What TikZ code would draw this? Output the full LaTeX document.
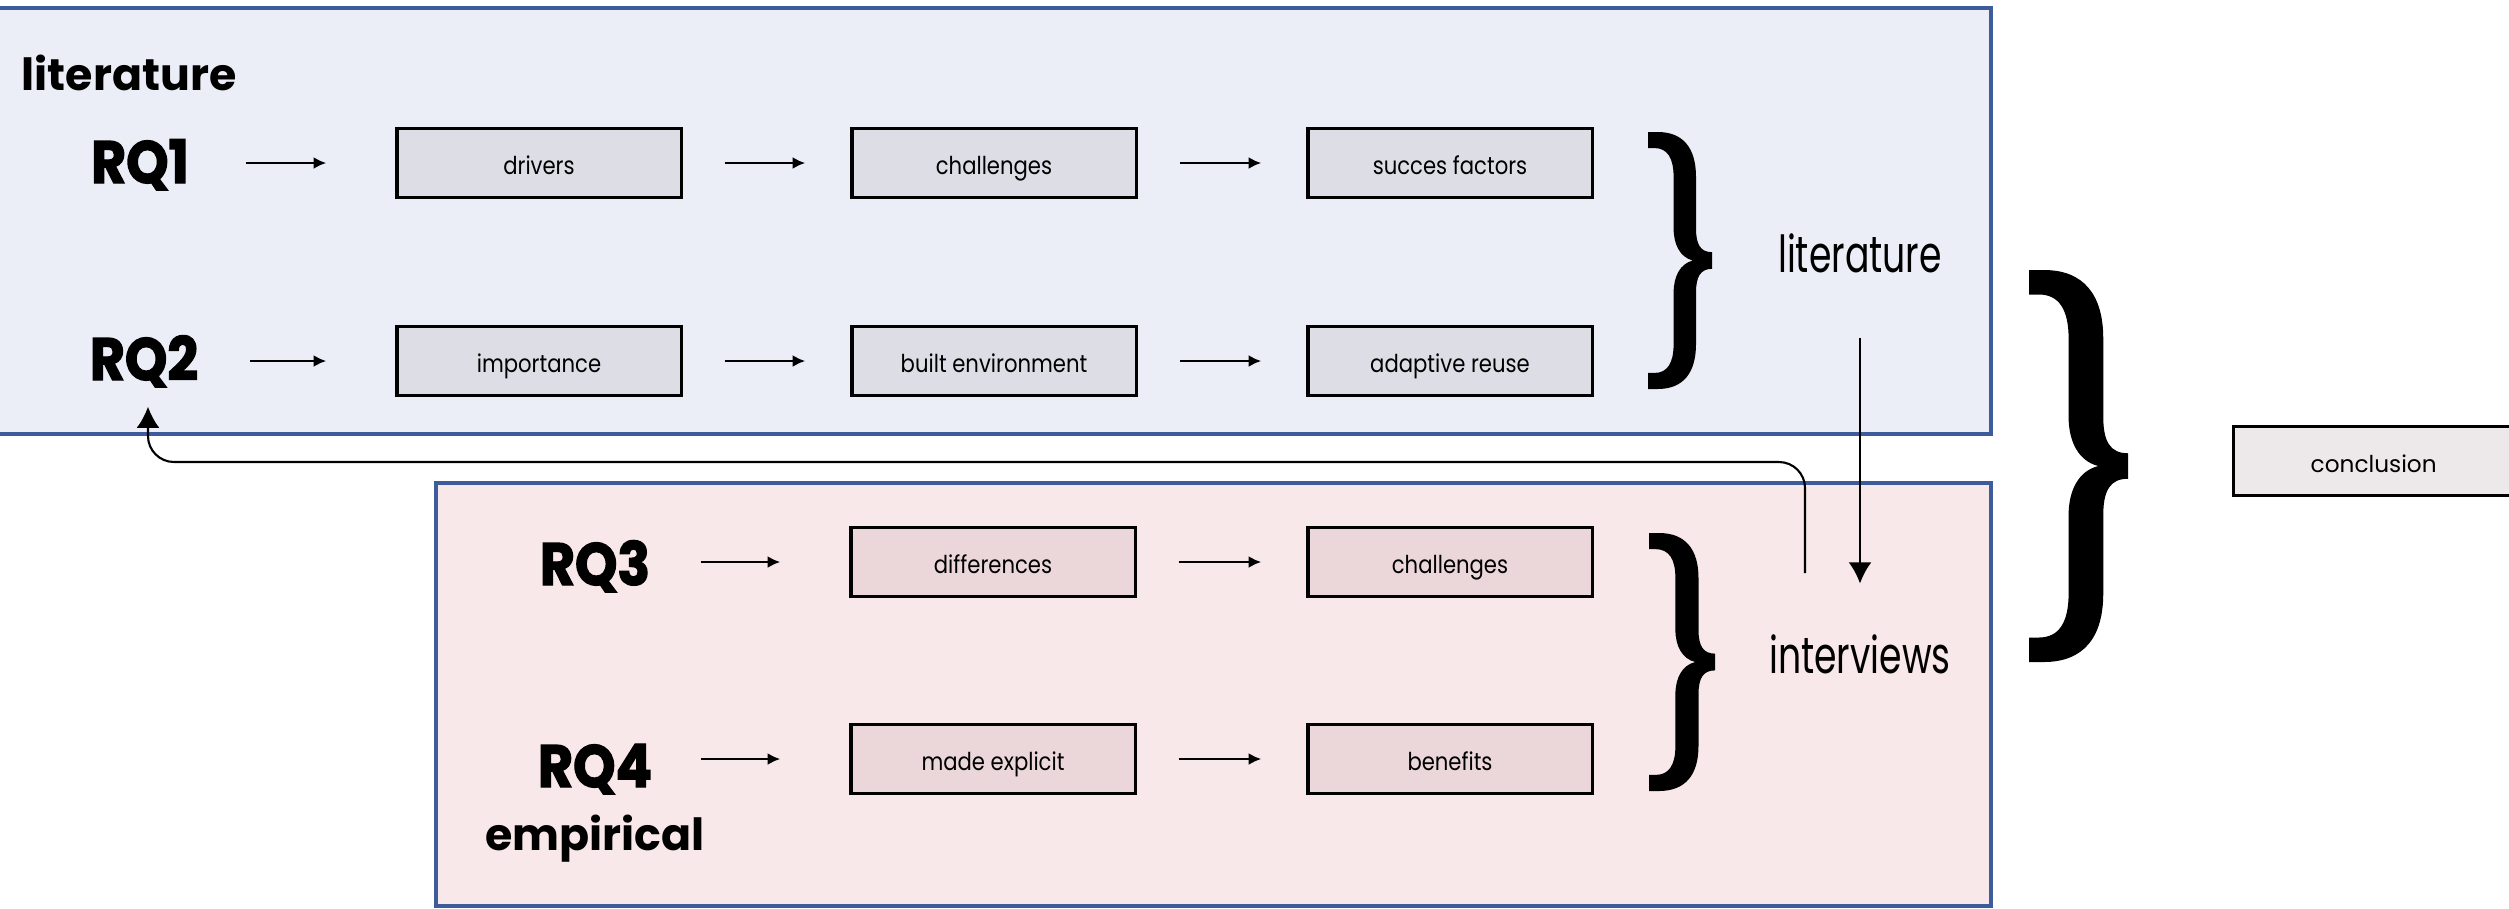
\documentclass[tikz,border=0pt]{standalone}
\usepackage{fontspec}
\setmainfont{Poppins}
\newfontfamily\condfont[FakeStretch=0.86]{Poppins}
\newfontfamily\bigcond[FakeStretch=0.71]{Poppins}
\newfontfamily\rqfont[FakeStretch=0.9, FakeBold=2.2]{Poppins}
\usetikzlibrary{arrows.meta}

\definecolor{bluebg}{HTML}{EBEEF7}
\definecolor{pinkbg}{HTML}{F9E8E9}
\definecolor{framecol}{HTML}{3E5C9C}
\definecolor{bluebox}{HTML}{DDDDE6}
\definecolor{pinkbox}{HTML}{EBD7D9}
\definecolor{conclbox}{HTML}{EDE8EA}

\tikzset{
  panel/.style={draw=framecol, line width=0.9pt},
  stepbox/.style={draw=black, line width=0.9pt, minimum width=2.84cm, minimum height=0.69cm,
    inner sep=0pt, text height=6.5pt, text depth=0pt, font=\condfont\fontsize{7}{8}\selectfont},
  bluestep/.style={stepbox, fill=bluebox},
  pinkstep/.style={stepbox, fill=pinkbox},
  rqlabel/.style={anchor=base, inner sep=0pt, text depth=0pt, minimum width=2.1cm,
    font=\rqfont\bfseries\fontsize{17}{18}\selectfont},
  sectlabel/.style={anchor=base, inner sep=0pt, text depth=0pt,
    font=\bfseries\fontsize{12.6}{14}\selectfont},
  methodlabel/.style={anchor=base, inner sep=0pt, text depth=0pt,
    font=\bigcond\fontsize{14.5}{16}\selectfont},
  arr/.style={-{Latex[length=3.6pt,width=3.4pt]}, line width=0.75pt},
  bigarr/.style={-{Latex[length=6pt,width=6.5pt]}, line width=0.6pt},
  curly/.pic={
    \fill (0,0) -- (15,0) .. controls (55,0) and (75,25) .. (75,70) -- (75,150)
      .. controls (75,175) and (82,187) .. (100,187) -- (100,213)
      .. controls (82,213) and (75,225) .. (75,250) -- (75,330)
      .. controls (75,375) and (55,400) .. (15,400) -- (0,400) -- (0,375) -- (10,375)
      .. controls (30,375) and (40,360) .. (40,330) -- (40,250)
      .. controls (40,225) and (50,205) .. (70,200)
      .. controls (50,195) and (40,175) .. (40,150) -- (40,70)
      .. controls (40,40) and (30,25) .. (10,25) -- (0,25) -- cycle;
  }
}

\begin{document}
\begin{tikzpicture}[x=0.01cm, y=-0.01cm]
\useasboundingbox (0,0) rectangle (2509,908);
\clip (0,0) rectangle (2509,908);

% panels
\draw[panel, fill=bluebg] (-20,8) rectangle (1991,434);
\draw[panel, fill=pinkbg] (436,483) rectangle (1991,906);

% section labels
\node[sectlabel] (litlabel) at (129,90) {literature};
\node[sectlabel] (emplabel) at (595,850) {empirical};

% RQ labels
\node[rqlabel] (rq1) at (140,183) {RQ1};
\node[rqlabel] (rq2) at (144,380) {RQ2};
\node[rqlabel] (rq3) at (595,585) {RQ3};
\node[rqlabel] (rq4) at (595,787) {RQ4};

% step boxes
\node[bluestep] (drivers) at (539,163) {drivers};
\node[bluestep] (chal1)   at (994,163) {challenges};
\node[bluestep] (succ)    at (1450,163) {succes factors};
\node[bluestep] (imp)     at (539,361) {importance};
\node[bluestep] (built)   at (994,361) {built environment};
\node[bluestep] (adapt)   at (1450,361) {adaptive reuse};
\node[pinkstep] (diff)    at (993,562) {differences};
\node[pinkstep] (chal2)   at (1450,562) {challenges};
\node[pinkstep] (made)    at (993,759) {made explicit};
\node[pinkstep] (ben)     at (1450,759) {benefits};

% conclusion
\node[draw=black, line width=0.9pt, fill=conclbox, minimum width=2.8cm, minimum height=0.69cm,
  inner sep=0pt, text height=6.3pt, text depth=0pt, anchor=west,
  font=\fontsize{6.6}{8}\selectfont] (concl) at (2232,461) {conclusion};

% method labels
\node[methodlabel] (litR) at (1860,272) {literature};
\node[methodlabel] (intv) at (1860,673) {interviews};

% braces
\pic[xscale=0.64, yscale=0.6425] at (1648,132) {curly};
\pic[xscale=0.66, yscale=0.645] at (1649,533) {curly};
\pic[xscale=0.99, yscale=0.98] at (2029,270) {curly};

% arrows RQ -> first box
\draw[arr, shorten >=0.69cm] (rq1.east |- drivers) -- (drivers);
\draw[arr, shorten >=0.69cm] (rq2.east |- imp) -- (imp);
\draw[arr, shorten >=0.69cm] (rq3.east |- diff) -- (diff);
\draw[arr, shorten >=0.69cm] (rq4.east |- made) -- (made);

% arrows box -> box
\draw[arr, shorten <=0.42cm, shorten >=0.45cm] (drivers) -- (chal1);
\draw[arr, shorten <=0.42cm, shorten >=0.45cm] (chal1) -- (succ);
\draw[arr, shorten <=0.42cm, shorten >=0.45cm] (imp) -- (built);
\draw[arr, shorten <=0.42cm, shorten >=0.45cm] (built) -- (adapt);
\draw[arr, shorten <=0.42cm, shorten >=0.45cm] (diff) -- (chal2);
\draw[arr, shorten <=0.42cm, shorten >=0.45cm] (made) -- (ben);

% literature -> interviews
\draw[bigarr, shorten <=0.65cm, shorten >=0.5cm] (litR.south) -- (intv.north);

% feedback interviews -> RQ2
\coordinate (retstart) at (1805,573);
\coordinate (retlevel) at (0,462);
\draw[bigarr, rounded corners=0.26cm, shorten >=0.26cm]
  (retstart) |- ([xshift=0.04cm]rq2.south |- retlevel) -- ([xshift=0.04cm]rq2.south);
\end{tikzpicture}
\end{document}
